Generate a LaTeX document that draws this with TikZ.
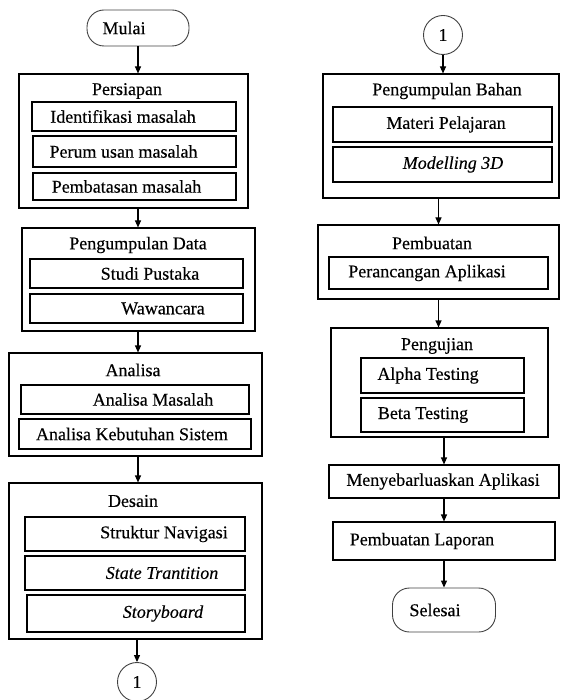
\documentclass[tikz,border=0pt]{standalone}
\usepackage{fontspec}
\setmainfont[FakeBold=0.3]{Liberation Serif}
\usetikzlibrary{arrows.meta}
\newcommand{\fs}{\fontsize{18}{20}\selectfont}

\tikzset{
  box/.style={draw=black,line width=1.1pt,inner sep=0pt},
  term/.style={draw=black!75,line width=0.9pt,rounded corners=17pt,inner sep=0pt},
  con/.style={draw=black!75,line width=0.9pt,circle,inner sep=0pt,minimum size=39pt,font=\fs},
  txt/.style={inner sep=0pt,font=\fs},
  arr/.style={-{Triangle[length=7pt,width=6pt]},line width=1.1pt}
}

\begin{document}
\begin{tikzpicture}[x=1pt,y=-1pt]
   \useasboundingbox (0,0) rectangle (560,700);
   % left column
   \node[term,minimum width=102,minimum height=36] (mulai) at (138,28) {};
   \node[txt] at (124,28) {Mulai};

   \node[box,minimum width=229,minimum height=134] (persiapan) at (133.5,141) {};
   \node[txt] at (127,91) {Persiapan};
   \node[box,minimum width=204,minimum height=29] (idn) at (134,116.5) {};
   \node[txt] at (123,116.5) {Identifikasi masalah};
   \node[box,minimum width=203,minimum height=31] (rum) at (134.5,151.5) {};
   \node[txt] at (123.5,151.5) {Perum usan masalah};
   \node[box,minimum width=203,minimum height=27] (bts) at (134.5,186.5) {};
   \node[txt] at (126.5,186.5) {Pembatasan masalah};

   \node[box,minimum width=233,minimum height=103] (data) at (138.5,279.5) {};
   \node[txt] at (138,245) {Pengumpulan Data};
   \node[box,minimum width=213,minimum height=29] (studi) at (136.5,273.5) {};
   \node[txt] at (150,273.5) {Studi Pustaka};
   \node[box,minimum width=213,minimum height=29] (wawan) at (136.5,308.5) {};
   \node[txt] at (163,308.5) {Wawancara};

   \node[box,minimum width=253,minimum height=103] (analisa) at (135.5,404.5) {};
   \node[txt] at (133,370) {Analisa};
   \node[box,minimum width=228,minimum height=29] (am) at (135,399.5) {};
   \node[txt] at (153,399.5) {Analisa Masalah};
   \node[box,minimum width=232,minimum height=30] (aks) at (135,434) {};
   \node[txt] at (132,434) {Analisa Kebutuhan Sistem};

   \node[box,minimum width=253,minimum height=156] (desain) at (135.5,561) {};
   \node[txt] at (133,501) {Desain};
   \node[box,minimum width=220,minimum height=34] (sn) at (135,534) {};
   \node[txt] at (164,534) {Struktur Navigasi};
   \node[box,minimum width=220,minimum height=34] (st) at (135,573) {};
   \node[txt] at (162,573) {\itshape State Trantition};
   \node[box,minimum width=218,minimum height=37] (sb) at (136,613.5) {};
   \node[txt] at (163,613.5) {\itshape Storyboard};

   \node[con] (ka) at (137,682) {1};

   \draw[arr] (mulai.south) -- (persiapan.north -| mulai);
   \draw[arr] (persiapan.south -| mulai) -- (data.north -| mulai);
   \draw[arr] (data.south -| mulai) -- (analisa.north -| mulai);
   \draw[arr] (analisa.south -| mulai) -- (desain.north -| mulai);
   \draw[arr] (desain.south -| ka) -- (ka.north);

   % right column
   \node[con] (kb) at (443,35) {1};

   \node[box,minimum width=236,minimum height=124] (bahan) at (441,136) {};
   \node[txt] at (447,91) {Pengumpulan Bahan};
   \node[box,minimum width=219,minimum height=35] (mp) at (442.5,124.5) {};
   \node[txt] at (446,124.5) {Materi Pelajaran};
   \node[box,minimum width=219,minimum height=35] (m3d) at (442.5,164.5) {};
   \node[txt] at (453,164.5) {\itshape Modelling 3D};

   \node[box,minimum width=241,minimum height=74] (pembuatan) at (438.5,262) {};
   \node[txt] at (432,243) {Pembuatan};
   \node[box,minimum width=219,minimum height=32] (pa) at (438.5,273) {};
   \node[txt] at (427,273) {Perancangan Aplikasi};

   \node[box,minimum width=217,minimum height=109] (uji) at (439.5,382.5) {};
   \node[txt] at (437,346) {Pengujian};
   \node[box,minimum width=163,minimum height=35] (alpha) at (442.5,375.5) {};
   \node[txt] at (428,375.5) {Alpha Testing};
   \node[box,minimum width=163,minimum height=34] (beta) at (442.5,415) {};
   \node[txt] at (423,415) {Beta Testing};

   \node[box,minimum width=230,minimum height=33] (sebar) at (444,481.5) {};
   \node[txt] at (443,481.5) {Menyebarluaskan Aplikasi};
   \node[box,minimum width=222,minimum height=38] (lapor) at (444,541) {};
   \node[txt] at (422,541) {Pembuatan Laporan};

   \node[term,minimum width=103,minimum height=44] (selesai) at (444,610) {};
   \node[txt] at (435,610) {Selesai};

   \draw[arr] (kb.south) -- (bahan.north -| kb);
   \draw[arr] (bahan.south -| pembuatan) -- (pembuatan.north);
   \draw[arr] (pembuatan.south) -- (uji.north -| pembuatan);
   \draw[arr] (uji.south -| sebar) -- (sebar.north);
   \draw[arr] (sebar.south) -- (lapor.north);
   \draw[arr] (lapor.south) -- (selesai.north);
  \end{tikzpicture}
\end{document}
